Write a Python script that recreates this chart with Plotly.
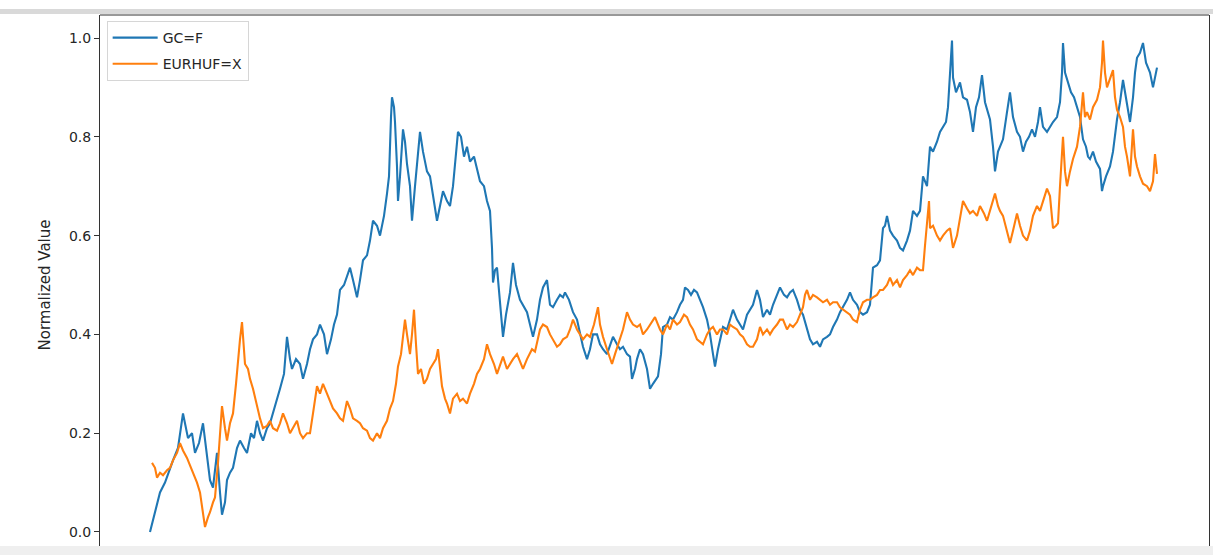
import plotly.graph_objects as go

# GC=F normalized: (trading-day index, value)
gc_points = [
    (0,0.00),(10,0.04),(20,0.08),(30,0.10),(40,0.13),(46,0.145),(56,0.17),(66,0.24),(76,0.19),(84,0.20),
    (90,0.16),(98,0.18),(106,0.22),(114,0.16),(120,0.105),(126,0.09),(134,0.16),(140,0.08),(144,0.035),(150,0.06),
    (154,0.105),(160,0.12),(166,0.13),(174,0.17),(180,0.185),(188,0.17),(194,0.16),(202,0.20),(208,0.19),(214,0.225),
    (220,0.20),(226,0.185),(234,0.21),(240,0.22),(246,0.24),(254,0.27),(260,0.29),(268,0.32),(274,0.395),(280,0.35),
    (284,0.33),(292,0.35),(300,0.34),(306,0.31),(314,0.34),(320,0.37),(326,0.39),(334,0.40),(340,0.42),(348,0.40),
    (354,0.36),(362,0.39),(368,0.42),(374,0.44),(380,0.49),(388,0.50),(394,0.52),(400,0.535),(406,0.51),(414,0.475),
    (420,0.51),(426,0.55),(434,0.56),(440,0.59),(446,0.63),(454,0.62),(460,0.60),(468,0.64),(474,0.685),(478,0.72),
    (482,0.84),(484,0.88),(488,0.86),(490,0.83),(494,0.74),(496,0.67),(500,0.72),(506,0.815),(510,0.79),(514,0.745),
    (520,0.70),(524,0.63),(530,0.70),(536,0.76),(540,0.81),(546,0.77),(554,0.73),(560,0.72),(566,0.68),(574,0.63),
    (580,0.66),(586,0.69),(594,0.67),(600,0.66),(606,0.70),(612,0.77),(616,0.81),(622,0.80),(628,0.76),(634,0.78),
    (640,0.75),(648,0.76),(654,0.735),(660,0.71),(668,0.70),(674,0.67),(680,0.65),(684,0.575),(686,0.505),(690,0.53),
    (694,0.535),(700,0.47),(706,0.395),(712,0.44),(720,0.485),(726,0.545),(732,0.50),(740,0.47),(746,0.46),(754,0.445),
    (760,0.42),(766,0.395),(774,0.43),(780,0.47),(786,0.495),(794,0.51),(800,0.46),(806,0.455),(814,0.47),(820,0.48),
    (826,0.475),(830,0.485),(838,0.47),(846,0.445),(854,0.43),(860,0.40),(866,0.375),(874,0.35),(880,0.37),(886,0.40),
    (894,0.40),(900,0.38),(906,0.37),(914,0.36),(920,0.38),(926,0.395),(934,0.38),(940,0.37),(946,0.375),(954,0.36),
    (960,0.355),(964,0.31),(970,0.33),(974,0.35),(980,0.37),(986,0.36),(994,0.33),(1000,0.29),(1006,0.30),(1012,0.31),
    (1016,0.315),(1022,0.36),(1026,0.415),(1034,0.42),(1040,0.435),(1046,0.43),(1054,0.445),(1060,0.46),(1066,0.47),(1070,0.495),
    (1076,0.49),(1082,0.48),(1088,0.49),(1094,0.485),(1100,0.47),(1106,0.455),(1114,0.43),(1120,0.40),(1126,0.36),(1130,0.335),
    (1136,0.37),(1140,0.39),(1146,0.415),(1154,0.41),(1160,0.43),(1166,0.45),(1174,0.43),(1180,0.42),(1186,0.41),(1194,0.44),
    (1200,0.45),(1206,0.46),(1214,0.49),(1220,0.47),(1226,0.435),(1234,0.45),(1240,0.44),(1246,0.46),(1254,0.48),(1260,0.495),
    (1268,0.48),(1274,0.475),(1280,0.485),(1286,0.49),(1294,0.47),(1300,0.45),(1306,0.44),(1314,0.41),(1320,0.39),(1326,0.38),
    (1334,0.385),(1340,0.375),(1346,0.39),(1354,0.395),(1360,0.40),(1366,0.415),(1374,0.43),(1380,0.445),(1386,0.455),(1394,0.47),
    (1400,0.485),(1406,0.47),(1414,0.46),(1420,0.445),(1426,0.44),(1434,0.445),(1440,0.46),(1446,0.535),(1454,0.54),(1460,0.55),
    (1466,0.615),(1470,0.62),(1474,0.64),(1480,0.61),(1486,0.60),(1494,0.59),(1500,0.575),(1506,0.57),(1514,0.59),(1520,0.61),
    (1526,0.65),(1534,0.64),(1540,0.65),(1546,0.72),(1554,0.70),(1560,0.78),(1566,0.77),(1574,0.79),(1580,0.81),(1586,0.82),
    (1592,0.83),(1596,0.86),(1600,0.93),(1604,0.995),(1606,0.92),(1612,0.89),(1620,0.91),(1626,0.88),(1634,0.875),(1640,0.85),
    (1646,0.81),(1652,0.86),(1658,0.88),(1664,0.925),(1670,0.87),(1676,0.85),(1680,0.835),(1686,0.78),(1690,0.73),(1696,0.77),
    (1700,0.78),(1706,0.795),(1714,0.85),(1720,0.89),(1726,0.84),(1734,0.81),(1740,0.80),(1746,0.77),(1752,0.79),(1758,0.80),
    (1764,0.815),(1770,0.80),(1776,0.83),(1780,0.86),(1786,0.82),(1794,0.81),(1800,0.82),(1806,0.83),(1814,0.84),(1820,0.87),
    (1824,0.93),(1826,0.99),(1830,0.93),(1836,0.91),(1842,0.89),(1848,0.88),(1854,0.86),(1860,0.84),(1866,0.795),(1872,0.78),
    (1876,0.76),(1880,0.755),(1886,0.77),(1892,0.75),(1900,0.735),(1904,0.69),(1906,0.70),(1912,0.72),(1920,0.74),(1926,0.77),
    (1934,0.835),(1940,0.87),(1946,0.915),(1952,0.88),(1960,0.83),(1966,0.88),(1970,0.93),(1974,0.96),(1980,0.97),(1986,0.99),
    (1992,0.95),(1996,0.94),(2000,0.93),(2006,0.90),(2010,0.92),(2014,0.94),
]

# EURHUF=X normalized: (trading-day index, value)
eh_points = [
    (4,0.14),(10,0.13),(14,0.11),(20,0.12),(26,0.115),(34,0.125),(40,0.13),(46,0.145),(54,0.16),(60,0.18),
    (66,0.165),(74,0.15),(80,0.135),(86,0.12),(94,0.10),(100,0.08),(106,0.04),(110,0.01),(116,0.03),(120,0.04),
    (126,0.06),(130,0.07),(136,0.14),(140,0.20),(144,0.255),(150,0.21),(154,0.185),(160,0.22),(166,0.24),(172,0.30),
    (176,0.35),(180,0.39),(184,0.425),(188,0.37),(190,0.34),(196,0.33),(200,0.31),(206,0.29),(214,0.255),(220,0.23),
    (226,0.21),(234,0.215),(240,0.225),(246,0.21),(254,0.205),(260,0.22),(266,0.24),(274,0.22),(280,0.20),(286,0.21),
    (294,0.225),(300,0.20),(306,0.19),(314,0.20),(320,0.20),(326,0.24),(334,0.295),(340,0.28),(346,0.30),(354,0.28),
    (360,0.265),(366,0.25),(374,0.24),(380,0.23),(386,0.225),(394,0.265),(400,0.25),(406,0.23),(414,0.225),(420,0.22),
    (426,0.21),(434,0.205),(440,0.19),(446,0.185),(454,0.20),(460,0.19),(466,0.21),(474,0.225),(480,0.25),(486,0.265),
    (492,0.30),(496,0.335),(502,0.36),(506,0.40),(510,0.43),(514,0.40),(520,0.36),(524,0.40),(528,0.45),(532,0.38),
    (536,0.32),(542,0.33),(548,0.30),(554,0.31),(560,0.33),(566,0.34),(572,0.35),(576,0.37),(580,0.33),(584,0.295),
    (590,0.27),(594,0.26),(600,0.24),(606,0.27),(614,0.28),(620,0.265),(626,0.27),(634,0.26),(640,0.28),(648,0.30),
    (654,0.32),(660,0.33),(668,0.35),(674,0.38),(680,0.36),(688,0.34),(694,0.32),(700,0.34),(706,0.355),(714,0.33),
    (720,0.34),(726,0.35),(734,0.36),(740,0.345),(746,0.33),(754,0.35),(764,0.37),(770,0.365),(776,0.39),(780,0.41),
    (786,0.42),(794,0.415),(800,0.40),(806,0.39),(814,0.375),(820,0.38),(826,0.39),(834,0.395),(840,0.41),(846,0.43),
    (854,0.41),(860,0.40),(866,0.39),(874,0.40),(880,0.395),(888,0.42),(896,0.455),(900,0.42),(906,0.395),(914,0.37),
    (920,0.35),(924,0.34),(930,0.36),(936,0.38),(940,0.395),(946,0.41),(954,0.445),(960,0.43),(966,0.42),(974,0.415),
    (980,0.42),(986,0.40),(994,0.41),(1000,0.42),(1010,0.435),(1016,0.42),(1020,0.41),(1026,0.40),(1034,0.42),(1040,0.41),
    (1046,0.43),(1054,0.42),(1060,0.425),(1068,0.44),(1074,0.435),(1080,0.42),(1086,0.41),(1094,0.39),(1100,0.385),(1106,0.38),
    (1114,0.40),(1120,0.41),(1126,0.415),(1134,0.40),(1140,0.41),(1146,0.41),(1154,0.40),(1160,0.42),(1166,0.415),(1174,0.41),
    (1180,0.40),(1186,0.395),(1194,0.38),(1200,0.375),(1206,0.375),(1214,0.39),(1220,0.415),(1226,0.40),(1234,0.41),(1240,0.40),
    (1246,0.41),(1254,0.42),(1260,0.43),(1266,0.43),(1274,0.41),(1280,0.42),(1286,0.415),(1294,0.425),(1300,0.44),(1306,0.455),
    (1310,0.48),(1314,0.49),(1320,0.47),(1326,0.48),(1334,0.475),(1340,0.47),(1346,0.465),(1354,0.47),(1360,0.46),(1366,0.465),
    (1374,0.465),(1380,0.455),(1386,0.45),(1394,0.445),(1400,0.44),(1406,0.43),(1414,0.425),(1420,0.45),(1426,0.465),(1434,0.47),
    (1440,0.47),(1446,0.475),(1454,0.48),(1460,0.49),(1466,0.49),(1474,0.50),(1480,0.515),(1486,0.50),(1494,0.51),(1500,0.495),
    (1506,0.51),(1514,0.52),(1520,0.53),(1526,0.52),(1534,0.535),(1540,0.53),(1546,0.53),(1550,0.58),(1554,0.63),(1558,0.67),
    (1560,0.615),(1566,0.62),(1574,0.60),(1580,0.59),(1586,0.60),(1594,0.61),(1600,0.615),(1606,0.575),(1614,0.60),(1620,0.64),
    (1626,0.67),(1634,0.655),(1640,0.645),(1646,0.65),(1654,0.64),(1660,0.66),(1668,0.645),(1674,0.63),(1680,0.65),(1686,0.67),
    (1690,0.685),(1696,0.66),(1700,0.65),(1706,0.64),(1714,0.61),(1720,0.585),(1726,0.61),(1734,0.645),(1740,0.62),(1746,0.60),
    (1754,0.59),(1760,0.61),(1766,0.64),(1774,0.66),(1780,0.65),(1786,0.67),(1794,0.695),(1800,0.68),(1806,0.615),(1812,0.62),
    (1816,0.625),(1820,0.70),(1826,0.80),(1830,0.73),(1834,0.70),(1840,0.73),(1846,0.755),(1854,0.78),(1860,0.82),(1866,0.89),
    (1870,0.84),(1874,0.85),(1880,0.835),(1886,0.86),(1894,0.875),(1900,0.90),(1904,0.95),(1906,0.995),(1910,0.93),(1914,0.90),
    (1920,0.92),(1926,0.935),(1930,0.88),(1934,0.855),(1940,0.84),(1946,0.82),(1950,0.78),(1954,0.76),(1960,0.72),(1966,0.815),
    (1970,0.76),(1974,0.74),(1980,0.72),(1986,0.705),(1994,0.70),(2000,0.69),(2006,0.71),(2010,0.765),(2014,0.725),
]

gc_day = [p[0] for p in gc_points]
gc_val = [p[1] for p in gc_points]
eh_day = [p[0] for p in eh_points]
eh_val = [p[1] for p in eh_points]

fig = go.Figure()
fig.add_trace(go.Scatter(x=gc_day, y=gc_val, mode="lines", name="GC=F", legendgroup="a",
                         line=dict(color="#1f77b4", width=2.1)))
fig.add_trace(go.Scatter(x=eh_day, y=eh_val, mode="lines", name="EURHUF=X", legendgroup="b",
                         line=dict(color="#ff7f0e", width=2.1)))

def py(p):
    return 1 - (p - 15) / 540.0

fig.update_layout(
    width=1213, height=555,
    margin=dict(l=100, r=4, t=15, b=0),
    paper_bgcolor="white", plot_bgcolor="white",
    font=dict(family="DejaVu Sans", size=14, color="#262626"),
    showlegend=True,
    legend=dict(x=0.006, y=py(21), xanchor="left", yanchor="top",
                bgcolor="rgba(255,255,255,0.8)", bordercolor="#d6d6d6", borderwidth=1,
                tracegroupgap=5, itemwidth=45,
                font=dict(size=14, color="#262626")),
    xaxis=dict(range=[-100, 2118], showgrid=False, zeroline=False, showticklabels=False,
               showline=False, ticks=""),
    yaxis=dict(range=[-0.0466, 1.0466], showgrid=False, zeroline=False,
               tickvals=[0, 0.2, 0.4, 0.6, 0.8, 1.0],
               ticktext=["0.0", "0.2", "0.4", "0.6", "0.8", "1.0"],
               ticks="outside", ticklen=5, tickcolor="#333", tickwidth=1,
               tickfont=dict(size=14),
               showline=True, linecolor="#333", linewidth=1, mirror=True,
               title=dict(text="Normalized Value", font=dict(size=15, color="#262626"), standoff=14)),
    shapes=[
        dict(type="line", xref="paper", yref="paper", x0=0, x1=1, y0=1, y1=1,
             line=dict(color="#333", width=1)),
        dict(type="rect", xref="paper", yref="paper", x0=-100/1109, x1=1.01,
             y0=py(14), y1=py(9), fillcolor="#d9d9d9", line=dict(width=0), layer="above"),
        dict(type="rect", xref="paper", yref="paper", x0=-100/1109, x1=1.01,
             y0=py(555), y1=py(546), fillcolor="#efefef", line=dict(width=0), layer="above"),
    ],
)

fig.write_html("out.html")
